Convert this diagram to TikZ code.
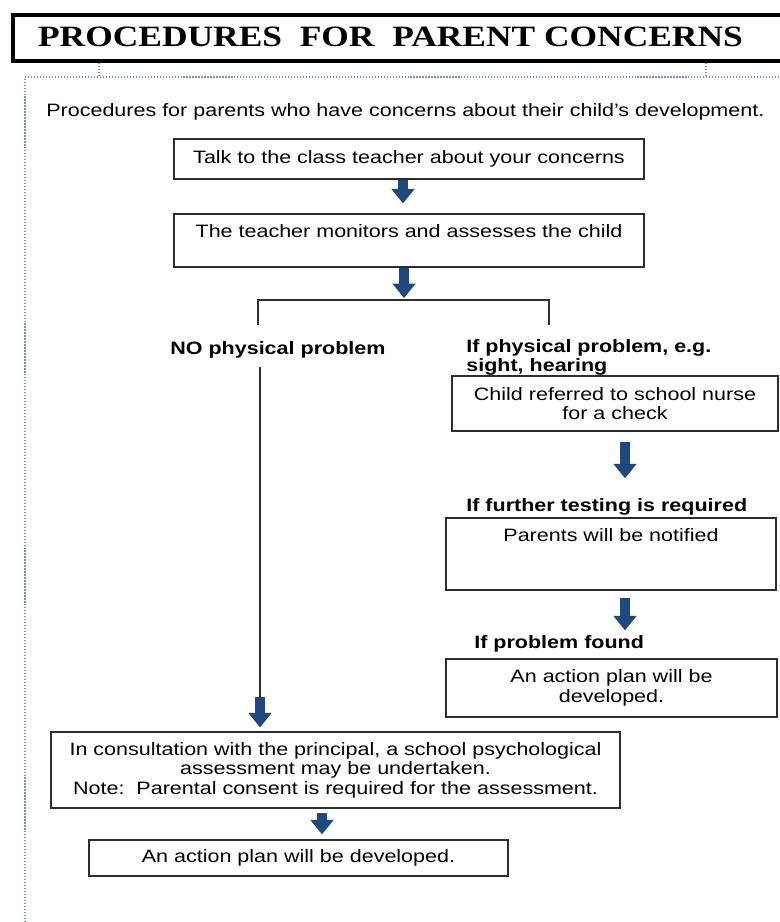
\documentclass[tikz,border=0pt]{standalone}
\usepackage{fontspec}
\setmainfont{Liberation Sans}[FakeStretch=1.2]
\newfontfamily\headfont{Liberation Serif}[FakeStretch=1.2]
\usetikzlibrary{arrows.meta,positioning}
\definecolor{arrowblue}{RGB}{31,73,125}
\definecolor{framegray}{RGB}{120,142,178}
\definecolor{boxline}{RGB}{45,45,45}
\tikzstyle{pbox}=[rectangle,draw=boxline,line width=0.75pt,inner sep=0pt,align=center,
                  font=\fontsize{10.2}{11.1}\selectfont]
\tikzstyle{oneline}=[text height=7.5pt,text depth=2pt]
\tikzstyle{cond}=[inner sep=0pt,align=left,font=\fontsize{10.2}{11.1}\selectfont\bfseries]
\tikzstyle{blockarr}=[-{Triangle[width=0.47cm,length=0.29cm,line width=0pt]},line width=0.2cm,draw=arrowblue]
\tikzstyle{link}=[draw=boxline,line width=0.75pt]
\tikzstyle{frame}=[draw=framegray,densely dotted,line width=0.7pt]

\begin{document}
\begin{tikzpicture}[x=0.02cm,y=-0.02cm]
  \useasboundingbox (0,0) rectangle (779,922);

  % heading bar and the dotted panel below it
  \node[draw=black,line width=0.08cm,minimum width=15.78cm,minimum height=0.92cm,
        anchor=north west] (title) at (11,13) {};
  \node[font=\headfont\fontsize{16.8}{18}\selectfont\bfseries] (head) at (390.5,37)
        {PROCEDURES\ \ FOR\ \ PARENT CONCERNS};
  \coordinate (hookL) at (99,77);
  \coordinate (hookR) at (706,77);
  \draw[frame] (hookL |- title.south) -- (hookL);
  \draw[frame] (hookR |- title.south) -- (hookR);
  \draw[frame] (800,77) -| (25,930);

  \node[anchor=west,inner sep=0pt,font=\fontsize{10.2}{11.1}\selectfont] (intro) at (46,112)
        {Procedures for parents who have concerns about their child’s development.};

  % main column
  \node[pbox,oneline,minimum width=9.4cm,minimum height=0.8cm] (talk) at (409,159)
        {Talk to the class teacher about your concerns};
  \node[pbox,oneline,text depth=11pt,minimum width=9.4cm,minimum height=1.06cm] (assess) at (409,240.5)
        {The teacher monitors and assesses the child};
  \coordinate (fork) at (404,300);
  \coordinate (legL) at (258,325);
  \coordinate (legR) at (549,325);

  \draw[blockarr] ([xshift=-0.12cm]talk.south) -- ([xshift=-0.12cm,yshift=0.2cm]assess.north);
  \draw[blockarr,shorten >=0.04cm] (assess.south -| fork) -- (fork);
  \draw[link] (legL) |- (fork) -| (legR);

  % branch labels
  \node[cond,anchor=west] (nophys) at (170,350) {NO physical problem};
  \node[cond,anchor=north west] (phys) at (466,339) {If physical problem, e.g.\\sight, hearing};

  % right hand branch
  \node[pbox,minimum width=6.52cm,minimum height=1.1cm] (nurse) at (615,403.5)
        {Child referred to school nurse\\for a check};
  \node[cond,anchor=west] (further) at (466,507) {If further testing is required};
  \node[pbox,oneline,text depth=22pt,minimum width=6.6cm,minimum height=1.44cm] (notify) at (611,554)
        {Parents will be notified};
  \node[cond,anchor=west] (found) at (474,644) {If problem found};
  \node[pbox,minimum width=6.62cm,minimum height=1.16cm] (planR) at (611.5,688)
        {An action plan will be\\developed.};

  \coordinate (a3) at ([xshift=0.2cm,yshift=-0.2cm]nurse.south);
  \draw[blockarr,shorten >=0.4cm] (a3) -- (a3 |- further.north);
  \coordinate (a4) at ([xshift=0.28cm,yshift=-0.14cm]notify.south);
  \draw[blockarr,shorten >=0.1cm] (a4) -- (a4 |- found.north);

  % left hand branch
  \node[pbox,minimum width=11.38cm,minimum height=1.52cm] (psych) at (335.5,770)
        {In consultation with the principal, a school psychological\\assessment may be undertaken.\\Note:\ \ Parental consent is required for the assessment.};
  \node[pbox,oneline,minimum width=8.38cm,minimum height=0.72cm] (planL) at (298.5,858)
        {An action plan will be developed.};

  \coordinate (drop) at (260,697);
  \draw[link,shorten <=0.16cm] (nophys.south -| drop) -- (drop);
  \draw[blockarr,shorten >=0.08cm] (drop) -- (psych.north -| drop);
  \coordinate (a6) at ([xshift=-0.27cm,yshift=-0.08cm]psych.south);
  \draw[blockarr,shorten >=0.1cm] (a6) -- (a6 |- planL.north);
\end{tikzpicture}
\end{document}
